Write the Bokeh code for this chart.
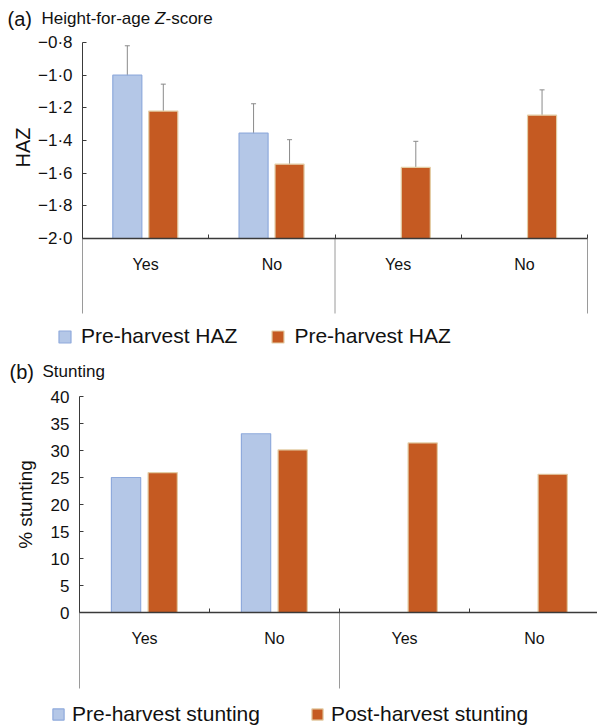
import math
from bokeh.plotting import figure
from bokeh.models import (Range1d, ColumnDataSource, LinearAxis, FixedTicker,
                          Whisker, TeeHead, Label, Legend, LegendItem)
from bokeh.layouts import column
from bokeh.embed import file_html
from bokeh.resources import INLINE

# ---------------- data ----------------
categories = ["Yes", "No", "Yes", "No"]
category_pos = [0.5, 1.5, 2.5, 3.5]
boundary_pos = [1, 2, 3, 4]
group_separators = [0, 2, 4]

haz_pre = [-1.00, -1.355, float("nan"), float("nan")]
haz_pre_err = [0.18, 0.18, float("nan"), float("nan")]
haz_post = [-1.22, -1.545, -1.565, -1.245]
haz_post_err = [0.165, 0.15, 0.16, 0.155]
haz_ticks = [-2.0, -1.8, -1.6, -1.4, -1.2, -1.0, -0.8]
haz_tick_labels = ["\u22122\u00b70", "\u22121\u00b78", "\u22121\u00b76", "\u22121\u00b74",
                   "\u22121\u00b72", "\u22121\u00b70", "\u22120\u00b78"]

stunt_pre = [25.0, 33.1, float("nan"), float("nan")]
stunt_post = [25.9, 30.1, 31.4, 25.6]
stunt_ticks = [0, 5, 10, 15, 20, 25, 30, 35, 40]
stunt_tick_labels = ["0", "5", "10", "15", "20", "25", "30", "35", "40"]

legend_a = ["Pre-harvest HAZ", "Pre-harvest HAZ"]
legend_b = ["Pre-harvest stunting", "Post-harvest stunting"]

BLUE, BLUE_EDGE = "#B4C7E7", "#8FAADC"
ORANGE, ORANGE_EDGE = "#C55A22", "#E3CDA5"
AXIS = "#3a3a3a"
SEP = "#9a9a9a"
TXT = "#111111"
FONT = "Liberation Sans"
W = 597


class Panel:
    """Figure whose frame fills the canvas; data<->page pixel mapping."""

    def __init__(self, height, page_top, x0_page, ppx, y_ref, y_ref_page, ppu):
        self.page_top = page_top
        self.x0_page, self.ppx = x0_page, ppx
        self.y_ref, self.y_ref_page, self.ppu = y_ref, y_ref_page, ppu
        xs = self.x(0)
        xe = self.x(W)
        yt = self.y(page_top)
        yb = self.y(page_top + height)
        self.p = figure(width=W, height=height, output_backend="svg", toolbar_location=None,
                        x_range=Range1d(xs, xe), y_range=Range1d(yb, yt),
                        x_axis_type=None, y_axis_type=None,
                        min_border_left=0, min_border_right=0, min_border_top=0,
                        min_border_bottom=0, frame_width=W, frame_height=height)
        self.p.outline_line_color = None
        self.p.xgrid.visible = False
        self.p.ygrid.visible = False

    def x(self, page_x):
        return (page_x - self.x0_page) / self.ppx

    def y(self, page_y):
        return self.y_ref - (page_y - self.y_ref_page) / self.ppu

    def label(self, page_x, page_y, txt, size, style="normal", angle=0.0,
              align="left", baseline="alphabetic"):
        self.p.add_layout(Label(x=self.x(page_x), y=self.y(page_y), text=txt,
                                text_font=FONT, text_font_size=f"{size}px",
                                text_font_style=style, text_color=TXT, angle=angle,
                                text_align=align, text_baseline=baseline))


def axes(P, y_base, y_top, ticks, tick_labels, x_end, sep_bottom_page, cat_standoff):
    p = P.p
    ay = LinearAxis(fixed_location=0, bounds=(y_base, y_top), ticker=FixedTicker(ticks=ticks),
                    major_label_overrides=dict(zip(ticks, tick_labels)))
    ay.major_label_text_font = FONT
    ay.major_label_text_font_size = "17px"
    ay.major_label_text_color = TXT
    ay.major_label_standoff = 10
    ay.major_tick_in = 4
    ay.major_tick_out = 0
    ay.minor_tick_line_color = None
    ay.axis_line_color = AXIS
    ay.major_tick_line_color = AXIS
    p.add_layout(ay, "left")

    ax = LinearAxis(fixed_location=y_base, bounds=(0, x_end),
                    ticker=FixedTicker(ticks=boundary_pos),
                    major_label_overrides={t: "" for t in boundary_pos})
    ax.major_tick_in = 4
    ax.major_tick_out = 0
    ax.minor_tick_line_color = None
    ax.axis_line_color = AXIS
    ax.axis_line_width = 1.6
    ax.major_tick_line_color = AXIS
    p.add_layout(ax, "below")

    ac = LinearAxis(fixed_location=y_base, ticker=FixedTicker(ticks=category_pos),
                    major_label_overrides=dict(zip(category_pos, categories)))
    ac.axis_line_color = None
    ac.major_tick_line_color = None
    ac.minor_tick_line_color = None
    ac.major_label_text_font = FONT
    ac.major_label_text_font_size = "16px"
    ac.major_label_text_color = TXT
    ac.major_label_standoff = cat_standoff
    p.add_layout(ac, "below")

    n = len(group_separators)
    p.segment(x0=group_separators, x1=group_separators, y0=[y_base] * n,
              y1=[P.y(sep_bottom_page)] * n, line_color=SEP, line_width=1)


def bar_source(vals, offset, errs=None):
    xs, tops, lo, hi = [], [], [], []
    for i, v in enumerate(vals):
        if not math.isnan(v):
            xs.append(category_pos[i] + offset)
            tops.append(v)
            if errs is not None:
                lo.append(v - errs[i])
                hi.append(v + errs[i])
    data = dict(x=xs, top=tops)
    if errs is not None:
        data["lower"] = lo
        data["upper"] = hi
    return ColumnDataSource(data)


# ---------------- panel (a) ----------------
A = Panel(height=358, page_top=0, x0_page=82, ppx=126.25,
          y_ref=-0.8, y_ref_page=42, ppu=196 / 1.2)
pa = A.p
axes(A, -2.0, -0.8, haz_ticks, haz_tick_labels, 4, 313, 11)

src_pre_a = bar_source(haz_pre, -0.145, haz_pre_err)
src_post_a = bar_source(haz_post, 0.14, haz_post_err)
r_pre_a = pa.vbar(x="x", top="top", bottom=-2.0, width=0.23, source=src_pre_a,
                  fill_color=BLUE, line_color=BLUE_EDGE, line_width=1.2)
r_post_a = pa.vbar(x="x", top="top", bottom=-2.0, width=0.23, source=src_post_a,
                   fill_color=ORANGE, line_color=ORANGE_EDGE, line_width=1.2)
for s in (src_pre_a, src_post_a):
    pa.add_layout(Whisker(source=s, base="x", upper="upper", lower="lower",
                          dimension="height", line_color="#8a8a8a", line_width=1,
                          upper_head=TeeHead(size=5, line_color="#8a8a8a", line_width=1),
                          lower_head=TeeHead(size=5, line_color="#8a8a8a", line_width=1)))

leg_a = Legend(items=[LegendItem(label=legend_a[0], renderers=[r_pre_a]),
                      LegendItem(label=legend_a[1], renderers=[r_post_a])],
               orientation="horizontal", location=(57, 10),
               glyph_width=15, glyph_height=15, label_standoff=9, spacing=33,
               padding=0, margin=0, border_line_color=None, background_fill_alpha=0,
               label_text_font=FONT, label_text_font_size="21px", label_text_color=TXT)
pa.add_layout(leg_a)

A.label(7, 18, "(a)", 20)
A.label(41, 18, "Height-for-age ", 17)
A.label(154.5, 18, "Z", 17, style="italic")
A.label(165, 18, "-score", 17)
A.label(22, 147, "HAZ", 20, angle=math.pi / 2, align="center", baseline="middle")

# ---------------- panel (b) ----------------
B = Panel(height=367, page_top=358, x0_page=79, ppx=130,
          y_ref=40, y_ref_page=396, ppu=5.4)
pb = B.p
axes(B, 0, 40, stunt_ticks, stunt_tick_labels, 4, 688, 11)

src_pre_b = bar_source(stunt_pre, -0.142)
src_post_b = bar_source(stunt_post, 0.14)
r_pre_b = pb.vbar(x="x", top="top", bottom=0, width=0.225, source=src_pre_b,
                  fill_color=BLUE, line_color=BLUE_EDGE, line_width=1.2)
r_post_b = pb.vbar(x="x", top="top", bottom=0, width=0.225, source=src_post_b,
                   fill_color=ORANGE, line_color=ORANGE_EDGE, line_width=1.2)

leg_b = Legend(items=[LegendItem(label=legend_b[0], renderers=[r_pre_b]),
                      LegendItem(label=legend_b[1], renderers=[r_post_b])],
               orientation="horizontal", location=(51, -1),
               glyph_width=14, glyph_height=14, label_standoff=7, spacing=50,
               padding=0, margin=0, border_line_color=None, background_fill_alpha=0,
               label_text_font=FONT, label_text_font_size="21px", label_text_color=TXT)
pb.add_layout(leg_b)

B.label(9, 371, "(b)", 20)
B.label(42, 371, "Stunting", 17)
B.label(25, 504, "% stunting", 19, angle=math.pi / 2, align="center", baseline="middle")

layout = column(pa, pb, spacing=0)
open("out.html", "w").write(file_html(layout, INLINE))
